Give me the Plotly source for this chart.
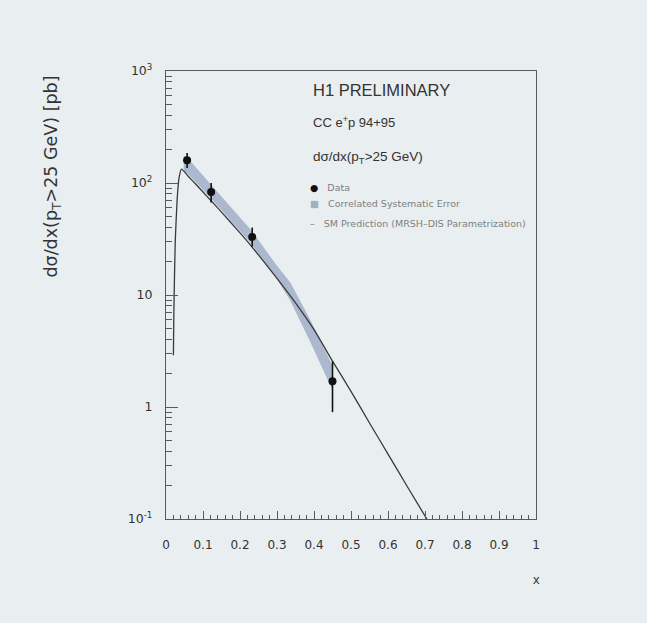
import plotly.graph_objects as go

# ---- data ----
data_x = [0.057, 0.122, 0.233, 0.45]
data_y = [160, 83, 33, 1.7]
data_err_up = [25, 17, 7, 0.85]
data_err_dn = [24, 16, 6, 0.8]

band_x = [0.048, 0.057, 0.12, 0.23, 0.30, 0.336, 0.39, 0.45]
band_hi = [174, 170, 98, 38, 18.2, 12.9, 6.0, 2.34]
band_lo = [126, 123, 74, 28.8, 13.8, 8.9, 3.8, 1.41]

sm_x = [0.020, 0.021, 0.022, 0.025, 0.030, 0.035, 0.042, 0.06, 0.08, 0.10, 0.12, 0.15, 0.20, 0.23,
        0.30, 0.35, 0.40, 0.45, 0.50, 0.55, 0.60, 0.65, 0.705]
sm_y = [2.9, 6, 10, 30, 70, 110, 133, 115, 98, 83, 70.5, 55, 35.9, 27.5,
        14.1, 8.5, 4.9, 2.57, 1.38, 0.72, 0.38, 0.20, 0.1]

xticks = [0, 0.1, 0.2, 0.3, 0.4, 0.5, 0.6, 0.7, 0.8, 0.9, 1]
xtick_text = ["0", "0.1", "0.2", "0.3", "0.4", "0.5", "0.6", "0.7", "0.8", "0.9", "1"]
yticks = [0.1, 1, 10, 100, 1000]
ytick_text = ["10<sup>-1</sup>", "1", "10", "10<sup>2</sup>", "10<sup>3</sup>"]

BG = "#e9eff1"
INK = "#333333"
AX = "#5a5a5a"
BAND = "rgba(150,165,192,0.75)"
FONT = "Liberation Sans"
WIDE = "DejaVu Sans"

fig = go.Figure()

fig.add_trace(go.Scatter(
    x=band_x + band_x[::-1], y=band_hi + band_lo[::-1],
    fill="toself", fillcolor=BAND, line=dict(width=0), mode="lines",
    hoverinfo="skip", showlegend=False))

fig.add_trace(go.Scatter(
    x=sm_x, y=sm_y, mode="lines", line=dict(color="#3a3a3a", width=1.3, shape="spline", smoothing=0.5),
    showlegend=False))

fig.add_trace(go.Scatter(
    x=data_x, y=data_y, mode="markers",
    marker=dict(color="#111111", size=8),
    error_y=dict(type="data", symmetric=False, array=data_err_up, arrayminus=data_err_dn,
                 color="#111111", thickness=1.6, width=0),
    showlegend=False))

fig.update_layout(
    width=647, height=623,
    margin=dict(l=165.5, r=111, t=71, b=104),
    paper_bgcolor=BG, plot_bgcolor=BG,
    font=dict(family=FONT, color=INK, size=12),
    showlegend=False,
)

fig.update_xaxes(
    range=[0, 1], showgrid=False, zeroline=False,
    showline=True, linecolor=AX, linewidth=1.2, mirror=True,
    ticks="inside", ticklen=8, tickcolor=AX, tickwidth=1,
    tickvals=xticks, ticktext=xtick_text, tickfont=dict(family=WIDE, size=12, color=INK),
    ticklabelstandoff=14,
    minor=dict(ticks="inside", ticklen=4, dtick=0.02, tickcolor=AX, tickwidth=1, showgrid=False),
)
fig.update_yaxes(
    type="log", range=[-1, 3], showgrid=False, zeroline=False,
    showline=True, linecolor=AX, linewidth=1.2, mirror=True,
    ticks="inside", ticklen=12, tickcolor=AX, tickwidth=1,
    tickvals=yticks, ticktext=ytick_text, tickfont=dict(family=WIDE, size=12.5, color=INK),
    ticklabelstandoff=10,
    minor=dict(ticks="inside", ticklen=6, dtick="D1", tickcolor=AX, tickwidth=1, showgrid=False),
)

def ann(text, x, y, size, color=INK, xanchor="left", yanchor="middle", angle=0, family=FONT):
    fig.add_annotation(text=text, x=x, y=y, xref="paper", yref="paper",
                       xanchor=xanchor, yanchor=yanchor, showarrow=False, textangle=angle,
                       font=dict(family=family, size=size, color=color))

ann("dσ/dx(p<sub>T</sub>>25 GeV) [pb]", -0.306, 0.764, 17.5, angle=-90, xanchor="center", family=WIDE)
ann("x", 1.0, -0.136, 13, xanchor="center")
ann("H1 PRELIMINARY", 0.393, 0.9576, 16.5)
ann("CC e<sup>+</sup>p 94+95", 0.393, 0.887, 13)
ann("dσ/dx(p<sub>T</sub>>25 GeV)", 0.393, 0.808, 13.5)
ann("<span style='color:#111'>●</span>   Data", 0.384, 0.741, 9.5, color="#808080", family=WIDE)
ann("<span style='color:#a3b0c4'>■</span>   Correlated Systematic Error", 0.384, 0.705, 9.5, color="#808080", family=WIDE)
ann("–   SM Prediction (MRSH–DIS Parametrization)", 0.384, 0.66, 9.5, color="#808080", family=WIDE)

fig.write_html("out.html")
